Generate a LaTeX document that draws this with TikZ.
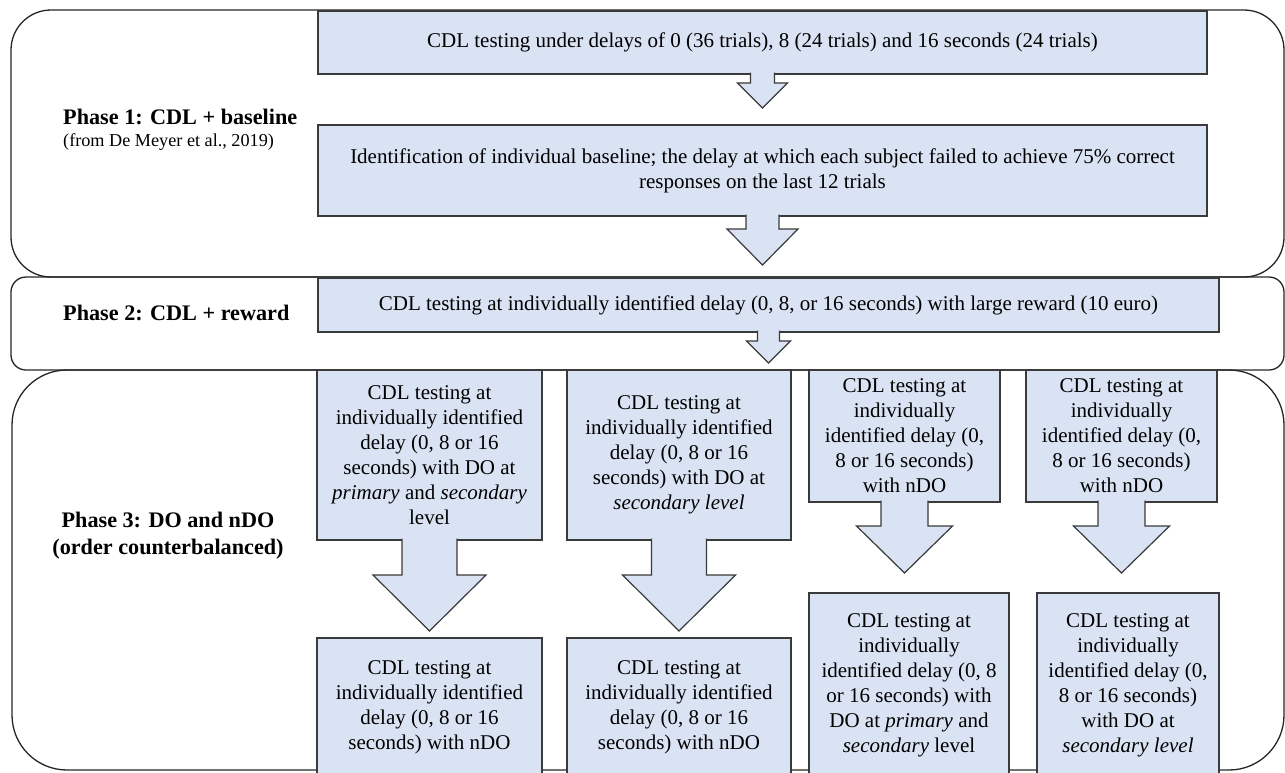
\documentclass[tikz,border=0pt]{standalone}
\usepackage{fontspec}
\setmainfont{Liberation Serif}
\usetikzlibrary{calc}
\definecolor{boxblue}{HTML}{DAE3F3}
\definecolor{boxline}{HTML}{3A3A3A}
\definecolor{panelline}{HTML}{262626}
\tikzset{
  stage/.style={draw=boxline, fill=boxblue, line width=1.2pt, inner sep=0pt, outer sep=0pt, align=center, font=\fontsize{21}{25}\selectfont},
  panel/.style={draw=panelline, line width=1.3pt},
  arrowbody/.style={draw=boxline, fill=boxblue, line width=1.2pt, line join=miter},
  phase/.style={inner sep=0pt, font=\bfseries\fontsize{22.2}{27}\selectfont},
}
\def\fatarrow(#1)(#2)(#3:#4:#5){\draw[arrowbody] ($(#1.south)+(-#3,-1.5)$) -- ($(#2)+(-#3,-#5)$) -- ($(#2)+(-#4,-#5)$) -- (#2) -- ($(#2)+(#4,-#5)$) -- ($(#2)+(#3,-#5)$) -- ($(#1.south)+(#3,-1.5)$);}

\begin{document}
\begin{tikzpicture}[x=1pt,y=-1pt]
				\useasboundingbox (0,0) rectangle (1285,772);
				\clip (0,0) rectangle (1285,772);
				%%%%% PANELS %%%%%
				\draw[panel, rounded corners=40pt] (11,10) rectangle (1284,277);
				\draw[panel, rounded corners=15pt] (11,277) rectangle (1284,370);
				\draw[panel, rounded corners=55pt] (12,370) rectangle (1284,770);
				
				\node[phase, anchor=base west] (p1) at (63,124) {Phase 1: CDL + baseline};
				\node[inner sep=0pt, anchor=base west, font=\fontsize{18.2}{22}\selectfont] (p1src) at (63,146.5) {(from De Meyer et al., 2019)};
				\node[phase, anchor=base west] (p2) at (63,320.5) {Phase 2: CDL + reward};
				\node[phase, align=center] (p3) at (168,536) {Phase 3: DO and nDO\\(order counterbalanced)};
				
				%%%%% PHASE 1 + 2 %%%%%
				\node[stage, minimum width=889pt, minimum height=63pt] (b1) at (762.5,42.5) {CDL testing under delays of 0 (36 trials), 8 (24 trials) and 16 seconds (24 trials)};
				\node[stage, minimum width=889pt, minimum height=91pt] (b2) at (762.5,170.5) {Identification of individual baseline; the delay at which each subject failed to achieve 75\% correct\\responses on the last 12 trials};
				\node[stage, minimum width=901pt, minimum height=54pt] (b3) at (768.5,305) {CDL testing at individually identified delay (0, 8, or 16 seconds) with large reward (10 euro)};
				
				\coordinate (t1) at (762.5,108);
				\coordinate (t2) at (762.5,265);
				\coordinate (t3) at (768.5,363);
				\fatarrow(b1)(t1)(12:25:25)
				\fatarrow(b2)(t2)(16.5:35.5:36)
				\fatarrow(b3)(t3)(11:22:22)
				
				%%%%% PHASE 3 %%%%%
				\node[stage, minimum width=225pt, minimum height=170pt] (c1) at (429.5,455) {CDL testing at\\individually identified\\delay (0, 8 or 16\\seconds) with DO at\\\textit{primary} and \textit{secondary}\\level};
				\node[stage, minimum width=224pt, minimum height=170pt] (c2) at (679,455) {CDL testing at\\individually identified\\delay (0, 8 or 16\\seconds) with DO at\\\textit{secondary level}};
				\node[stage, minimum width=191pt, minimum height=132pt] (c3) at (904.5,436) {CDL testing at\\individually\\identified delay (0,\\8 or 16 seconds)\\with nDO};
				\node[stage, minimum width=191pt, minimum height=132pt] (c4) at (1121.5,436) {CDL testing at\\individually\\identified delay (0,\\8 or 16 seconds)\\with nDO};
				
				\node[stage, minimum width=225pt, minimum height=139pt] (d1) at (429.5,707.5) {CDL testing at\\individually identified\\delay (0, 8 or 16\\seconds) with nDO};
				\node[stage, minimum width=224pt, minimum height=139pt] (d2) at (679,707.5) {CDL testing at\\individually identified\\delay (0, 8 or 16\\seconds) with nDO};
				\node[stage, minimum width=200pt, minimum height=185pt] (d3) at (909,685.5) {CDL testing at\\individually\\identified delay (0, 8\\or 16 seconds) with\\DO at \textit{primary} and\\\textit{secondary} level};
				\node[stage, minimum width=182pt, minimum height=185pt] (d4) at (1128,685.5) {CDL testing at\\individually\\identified delay (0,\\8 or 16 seconds)\\with DO at\\\textit{secondary level}};
				
				\coordinate (u1) at (429.5,631);
				\coordinate (u2) at (679,631);
				\coordinate (u3) at (904.5,573);
				\coordinate (u4) at (1121.5,573);
				\fatarrow(c1)(u1)(27.5:56.5:56)
				\fatarrow(c2)(u2)(27.5:56.5:56)
				\fatarrow(c3)(u3)(23.5:48:47)
				\fatarrow(c4)(u4)(23.5:48:47)
				%%%%% END %%%%%
\end{tikzpicture}
\end{document}
